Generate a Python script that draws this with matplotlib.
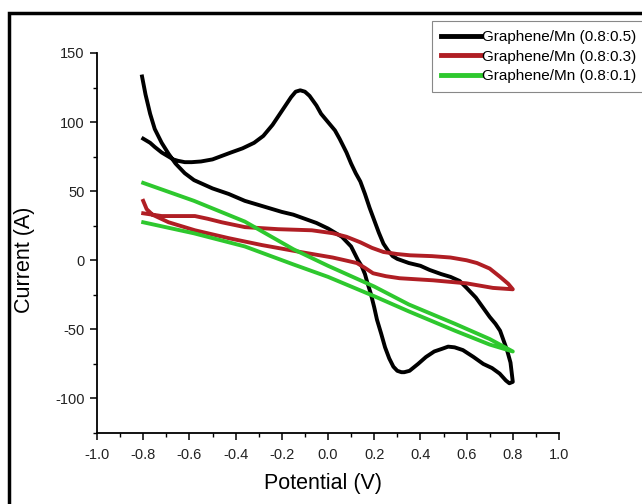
import numpy as np
import matplotlib
matplotlib.use('Agg')
import matplotlib.pyplot as plt
from matplotlib.patches import Rectangle
from matplotlib.ticker import MultipleLocator, FormatStrFormatter

plt.rcParams['font.family'] = ['Liberation Sans', 'DejaVu Sans']
plt.rcParams['axes.unicode_minus'] = False

# Graphene/Mn (0.8:0.5) - one closed CV loop
black_x = [-0.80, -0.77, -0.75, -0.72, -0.70, -0.67, -0.65, -0.62, -0.59, -0.55, -0.50, -0.46,
           -0.42, -0.37, -0.32, -0.28, -0.24, -0.20, -0.16, -0.14, -0.12, -0.10, -0.08, -0.05,
           -0.03, 0.00, 0.03, 0.05, 0.08, 0.10, 0.12, 0.14, 0.16, 0.18, 0.20, 0.22, 0.24,
           0.26, 0.28, 0.30, 0.35, 0.40, 0.44, 0.49, 0.53, 0.57, 0.60, 0.64, 0.67, 0.70,
           0.725, 0.745, 0.76, 0.775, 0.79, 0.80,
           0.785, 0.77, 0.743, 0.71, 0.672, 0.63, 0.584, 0.548, 0.52, 0.495, 0.46, 0.424,
           0.39, 0.353, 0.33, 0.318, 0.30, 0.283, 0.265, 0.247, 0.23, 0.212, 0.20, 0.185,
           0.17, 0.16, 0.145, 0.13, 0.10, 0.06, 0.03, 0.00, -0.05, -0.10, -0.15, -0.20,
           -0.30, -0.36, -0.43, -0.50, -0.58, -0.62, -0.66, -0.69, -0.72, -0.75, -0.77,
           -0.79, -0.805]
black_y = [88, 85, 82, 78, 76, 73, 72, 71, 71, 71.5, 73, 75.5,
           78, 81, 85, 90, 98, 108, 118, 122, 123, 122, 119, 112,
           106, 100, 94, 88, 78, 70, 63, 57, 48, 38, 29, 20, 12,
           7, 3, 1, -2, -4, -7, -10, -12, -15, -20, -27, -34, -41,
           -46, -51, -58, -65, -74, -88,
           -89, -87, -82, -78, -75, -70, -65, -63, -62.5, -64, -66, -70,
           -75, -80, -81, -81, -80, -77, -71, -63, -53, -43, -34, -24,
           -16, -10, -4, 0, 10, 17, 20, 23, 27, 30, 33, 35,
           40, 43, 48, 52, 58, 63, 70, 77, 85, 95, 106,
           120, 133]

# Graphene/Mn (0.8:0.3)
red_x = [-0.80, -0.72, -0.65, -0.576, -0.52, -0.46, -0.36, -0.216, -0.07, 0.02, 0.08, 0.14,
         0.19, 0.24, 0.30, 0.355, 0.45, 0.53, 0.60, 0.645, 0.70, 0.745, 0.78, 0.80,
         0.714, 0.60, 0.455, 0.31, 0.25, 0.195, 0.16, 0.125, 0.06, 0.02, -0.12, -0.286, -0.43,
         -0.576, -0.69, -0.76, -0.785, -0.80]
red_y = [34, 32, 32, 32, 30, 27.5, 24, 22.5, 21.7, 19.6, 17, 13,
         9, 6, 4.5, 3.6, 3, 2, 0, -2, -6, -12, -17, -21,
         -20, -16.7, -14.5, -13, -11.5, -9.4, -5.5, -2, 0.5, 2, 6, 11, 16,
         21.7, 27.5, 33, 37, 43]

# Graphene/Mn (0.8:0.1)
green_x = [-0.80, -0.58, -0.36, -0.15, 0.00, 0.20, 0.35, 0.55, 0.70, 0.80,
           0.70, 0.55, 0.35, 0.20, 0.00, -0.15, -0.36, -0.58, -0.80]
green_y = [56, 43, 28, 8, -4, -19, -32, -46, -57, -66,
           -61, -51, -37, -26, -12, -3, 10, 19.5, 27.5]

labels = ['Graphene/Mn (0.8:0.5)', 'Graphene/Mn (0.8:0.3)', 'Graphene/Mn (0.8:0.1)']

fig = plt.figure(figsize=(6.42, 5.04), dpi=100)
ax = fig.add_axes([97/642, 1-433/504, 462/642, 380/504])

ax.plot(black_x, black_y, color='black', lw=2.8, label=labels[0], solid_joinstyle='round')
ax.plot(red_x, red_y, color='#b01e24', lw=2.8, label=labels[1], solid_joinstyle='round')
ax.plot(green_x, green_y, color='#2ec82e', lw=2.8, label=labels[2], solid_joinstyle='round')

ax.set_xlim(-1.0, 1.0)
ax.set_ylim(-125, 150)
ax.spines['top'].set_visible(False)
ax.spines['right'].set_visible(False)
for s in ['left', 'bottom']:
    ax.spines[s].set_linewidth(1.3)
ax.xaxis.set_major_locator(MultipleLocator(0.2))
ax.xaxis.set_minor_locator(MultipleLocator(0.1))
ax.xaxis.set_major_formatter(FormatStrFormatter('%.1f'))
ax.yaxis.set_major_locator(MultipleLocator(50))
ax.yaxis.set_minor_locator(MultipleLocator(25))
ax.tick_params(which='major', direction='out', length=5, width=1.1, labelsize=10.5, pad=4,
               labelcolor='#222222')
ax.tick_params(axis='x', which='major', pad=6)
ax.tick_params(which='minor', direction='out', length=3, width=1.0)

ax.set_xlabel('Potential (V)', fontsize=15.5)
ax.set_ylabel('Current (A)', fontsize=15.5)
ax.xaxis.set_label_coords(0.49, -0.105)
ax.yaxis.set_label_coords(-0.135, 0.455)

leg = fig.legend(loc='upper left', bbox_to_anchor=(432/642, 1-21/504), borderaxespad=0,
                 fontsize=11, handlelength=2.6, handletextpad=0.05, labelspacing=0.36,
                 borderpad=0.6, fancybox=False, framealpha=1)
leg.get_frame().set_edgecolor('#888888')
leg.get_frame().set_linewidth(0.8)
for l in leg.get_lines():
    l.set_linewidth(3.5)

# outer frame of the picture
fig.patches.append(Rectangle((9/642, -0.1), 1.2, 1-13/504+0.1, transform=fig.transFigure,
                             fill=False, edgecolor='black', lw=2.5, zorder=10))

fig.savefig('out.png', dpi=100)
